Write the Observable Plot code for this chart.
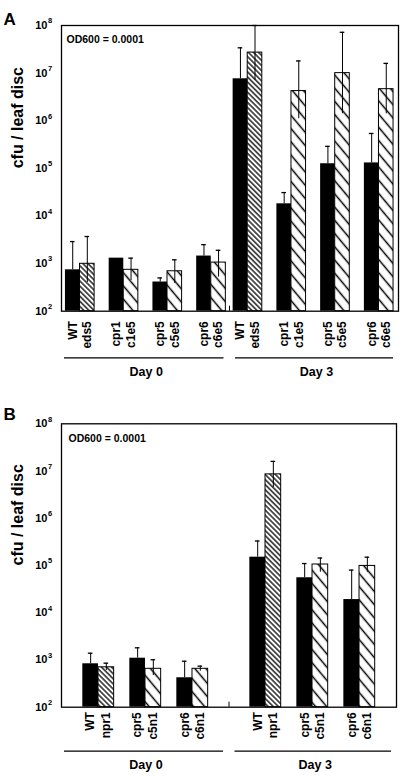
<!DOCTYPE html>
<html><head><meta charset="utf-8">
<script src="https://cdn.jsdelivr.net/npm/d3@7"></script>
<script src="https://cdn.jsdelivr.net/npm/@observablehq/plot@0.6"></script>
<style>
body{margin:0;background:#fff;}
#wrap svg{display:block}
</style></head><body>
<svg width="0" height="0" style="position:absolute">
<defs>
<pattern id="dense" patternUnits="userSpaceOnUse" width="8" height="3.6" patternTransform="rotate(45)">
<rect width="8" height="3.6" fill="white"/>
<line x1="0" y1="1.8" x2="8" y2="1.8" stroke="black" stroke-width="1.3"/>
</pattern>
<pattern id="sparse" patternUnits="userSpaceOnUse" width="10" height="8.5" patternTransform="rotate(50)">
<rect width="10" height="8.5" fill="white"/>
<line x1="0" y1="4.25" x2="10" y2="4.25" stroke="black" stroke-width="1.5"/>
</pattern>
</defs></svg>
<div id="wrap"></div>
<script>
// ---------- data ----------
const yTickValues = [1e2, 1e3, 1e4, 1e5, 1e6, 1e7, 1e8];
const yTickBase = "10";
const yTickExponents = ["2", "3", "4", "5", "6", "7", "8"];
const yLabel = "cfu / leaf disc";
const odLabel = "OD600 = 0.0001";
const dayLabels = ["Day 0", "Day 3"];

// Panel A
const labelsA = ["WT", "eds5", "cpr1", "c1e5", "cpr5", "c5e5", "cpr6", "c6e5"];
const valuesA_day0 = [740, 990, 1300, 740, 410, 690, 1440, 1050];
const errHiA_day0 = [2900, 3700, 1300, 1300, 500, 1200, 2500, 1900];
const errLoA_day0 = [740, 400, 1300, 440, 410, 380, 1440, 520];
const valuesA_day3 = [7.6e6, 2.7e7, 1.8e4, 4.2e6, 1.25e5, 1.0e7, 1.3e5, 4.6e6];
const errHiA_day3 = [3.4e7, 1e8, 3.1e4, 1.8e7, 2.9e5, 7.2e7, 5.4e5, 1.6e7];
const errLoA_day3 = [7.6e6, 7.1e6, 1.8e4, 1.1e6, 1.25e5, 1.4e6, 1.3e5, 1.4e6];

// Panel B
const labelsB = ["WT", "npr1", "cpr5", "c5n1", "cpr6", "c6n1"];
const valuesB_day0 = [830, 700, 1090, 650, 420, 650];
const errHiB_day0 = [1390, 855, 1810, 1010, 940, 740];
const errLoB_day0 = [830, 600, 1090, 470, 420, 580];
const valuesB_day3 = [1.5e5, 8.5e6, 5.5e4, 1.05e5, 1.9e4, 9.8e4];
const errHiB_day3 = [3.3e5, 1.6e7, 1.1e5, 1.44e5, 8e4, 1.5e5];
const errLoB_day3 = [1.5e5, 4.5e6, 5.5e4, 7.2e4, 1.9e4, 7.2e4];

// ---------- build ----------
function buildBars(labels, days, dayGap, denseLabel) {
  const nPairs = labels.length / 2;
  const day3Start = nPairs * 3 - 1 + dayGap;
  const rows = [];
  days.forEach(([v, h, l, day], di) => {
    const off = di === 0 ? 0 : day3Start;
    labels.forEach((lab, i) => {
      const pair = Math.floor(i / 2), hatched = i % 2 === 1;
      const s = off + pair * 3 + (hatched ? 1 : 0);
      rows.push({label: lab, day, hatched, dense: lab === denseLabel,
        x1: s, x2: s + 1, xc: s + 0.5, value: v[i], hi: h[i], lo: l[i]});
    });
  });
  return {rows, mid: (nPairs * 3 - 1 + day3Start) / 2, end: day3Start + nPairs * 3 - 1};
}

function panel(cfg) {
  const {rows, mid, end} = buildBars(cfg.labels, cfg.days, cfg.dayGap, cfg.denseLabel);
  const xDomain = [-cfg.padL, end + cfg.padR];
  const plotW = 403 - cfg.ml - cfg.mr;
  const px = plotW / (xDomain[1] - xDomain[0]);
  const plotH = cfg.height - cfg.mt - cfg.mb;
  const capHalf = 2.3 / px;
  const l0a = xDomain[0] + 3 / px, l0b = mid - 5.5 / px;
  const l3a = mid + 6 / px, l3b = xDomain[1] - 5 / px;
  const dayRows = [
    {text: dayLabels[0], x: (l0a + l0b) / 2},
    {text: dayLabels[1], x: (l3a + l3b) / 2}
  ];
  const black = rows.filter(d => !d.hatched);
  const dense = rows.filter(d => d.hatched && d.dense);
  const sparse = rows.filter(d => d.hatched && !d.dense);
  const errs = rows.filter(d => d.hi > d.value || d.lo < d.value);
  const caps = rows.filter(d => d.hi > d.value);
  return Plot.plot({
    width: 403, height: cfg.height,
    marginLeft: cfg.ml, marginRight: cfg.mr, marginTop: cfg.mt, marginBottom: cfg.mb,
    style: {fontFamily: "'Liberation Sans', Arial, Helvetica, sans-serif", fontWeight: "bold", background: "white", overflow: "visible", color: "black"},
    x: {type: "linear", domain: xDomain, axis: null},
    y: {type: "log", domain: [1e2, 1e8], axis: null},
    marks: [
      Plot.rectY(black, {x1: "x1", x2: "x2", y1: 100, y2: "value", fill: "black"}),
      Plot.rectY(dense, {x1: "x1", x2: "x2", y1: 100, y2: "value", fill: "url(#dense)", stroke: "black", strokeWidth: 1}),
      Plot.rectY(sparse, {x1: "x1", x2: "x2", y1: 100, y2: "value", fill: "url(#sparse)", stroke: "black", strokeWidth: 1}),
      Plot.ruleX(errs, {x: "xc", y1: "lo", y2: "hi", stroke: "black", strokeWidth: 1}),
      Plot.ruleY(caps, {y: "hi", x1: d => d.xc - capHalf, x2: d => d.xc + capHalf, stroke: "black", strokeWidth: 1.3}),
      Plot.ruleX([mid], {insetTop: plotH - 5, stroke: "black", strokeWidth: 1}),
      Plot.frame({stroke: "black", strokeWidth: 1.3}),
      // y tick labels
      Plot.text(yTickValues, {y: d => d, frameAnchor: "left", text: () => yTickBase, textAnchor: "end", dx: -14, fontSize: 11, fill: "black"}),
      Plot.text(yTickValues, {y: d => d, frameAnchor: "left", text: (d, i) => yTickExponents[i], textAnchor: "start", dx: -13.6, dy: -4.5, fontSize: 7.5, fill: "black"}),
      // y label
      Plot.text([yLabel], {frameAnchor: "left", text: d => d, rotate: -90, dx: -44, fontSize: 16, fill: "black"}),
      // panel letter
      Plot.text([cfg.letter], {frameAnchor: "top-left", text: d => d, textAnchor: "start", dx: cfg.letterDx, dy: cfg.letterDy, fontSize: 17, fill: "black"}),
      // OD label
      Plot.text([odLabel], {frameAnchor: "top-left", text: d => d, textAnchor: "start", dx: cfg.odDx, dy: cfg.odDy, fontSize: 10.5, fill: "black"}),
      // bar labels
      Plot.text(rows, {x: "xc", y: 100, text: "label", rotate: -90, textAnchor: "end", dy: cfg.labelDy, fontSize: 12, fill: "black"}),
      // day underlines
      Plot.ruleY([{a: l0a, b: l0b}, {a: l3a, b: l3b}], {y: 100, x1: "a", x2: "b", dy: cfg.lineDy, stroke: "black", strokeWidth: 1.3}),
      Plot.text(dayRows, {x: "x", y: 100, text: "text", dy: cfg.dayDy, dx: 2, fontSize: 12.5, fill: "black", style: "letter-spacing:0.6px"})
    ]
  });
}

const wrap = document.getElementById("wrap");
wrap.appendChild(panel({
  letter: "A", labels: labelsA, denseLabel: "eds5",
  days: [[valuesA_day0, errHiA_day0, errLoA_day0, "Day 0"], [valuesA_day3, errHiA_day3, errLoA_day3, "Day 3"]],
  dayGap: 0.5, padL: 0.27, padR: 0.34,
  height: 390, ml: 61, mr: 5, mt: 25, mb: 79.3,
  letterDx: -58, letterDy: -13, odDx: 5, odDy: 10,
  labelDy: 10, lineDy: 46.6, dayDy: 61
}));
wrap.appendChild(panel({
  letter: "B", labels: labelsB, denseLabel: "npr1",
  days: [[valuesB_day0, errHiB_day0, errLoB_day0, "Day 0"], [valuesB_day3, errHiB_day3, errLoB_day3, "Day 3"]],
  dayGap: 2.66, padL: 1.36, padR: 1.36,
  height: 386, ml: 61, mr: 7, mt: 33.3, mb: 69.3,
  letterDx: -58, letterDy: -16, odDx: 7, odDy: 10.7,
  labelDy: 5, lineDy: 44, dayDy: 57.3
}));
</script>
</body></html>
